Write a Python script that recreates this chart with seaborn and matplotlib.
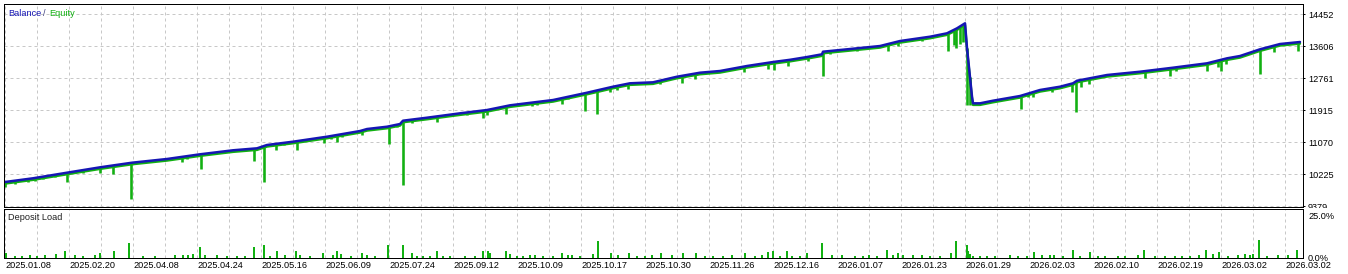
import numpy as np
import pandas as pd
import matplotlib
matplotlib.use("Agg")
import matplotlib.pyplot as plt
import matplotlib.transforms as mtransforms
from matplotlib.ticker import FixedLocator
import seaborn as sns

# ---------------- data ----------------
# balance curve key points (deal index, balance)
bal_x = [0, 28, 62, 95, 127, 162, 195, 228, 252, 262, 288, 322, 355, 362, 382, 395, 398,
         422, 455, 482, 505, 518, 548, 582, 608, 625, 648, 672, 695, 715, 742, 768, 785,
         802, 817, 818, 842, 875, 895, 925, 942, 952, 960, 962, 967, 968, 975, 988, 1015,
         1035, 1055, 1068, 1072, 1102, 1135, 1168, 1202, 1222, 1235, 1255, 1275, 1295]
bal_v = [10021, 10119, 10267, 10409, 10531, 10629, 10753, 10859, 10911, 10999, 11086, 11218,
         11368, 11421, 11482, 11553, 11641, 11720, 11836, 11923, 12047, 12090, 12187, 12380,
         12539, 12629, 12655, 12803, 12909, 12954, 13086, 13191, 13250, 13323, 13395, 13464,
         13527, 13614, 13746, 13860, 13950, 14082, 14214, 13561, 12275, 12100, 12100, 12169,
         12293, 12452, 12539, 12629, 12697, 12848, 12935, 13041, 13157, 13289, 13350, 13527,
         13667, 13720]

# equity drawdown spikes (deal index, equity low)
eq_x = [0, 10, 23, 30, 38, 50, 62, 78, 95, 108, 126, 177, 182, 196, 249, 259, 271, 279, 292,
        319, 326, 332, 337, 357, 384, 392, 398, 407, 432, 462, 478, 482, 501, 527, 532, 557,
        563, 580, 592, 605, 612, 623, 655, 677, 690, 739, 763, 769, 783, 803, 818, 825, 852,
        883, 893, 917, 943, 949, 951, 955, 958, 962, 965, 1016, 1023, 1028, 1047, 1067, 1071,
        1076, 1084, 1140, 1165, 1171, 1202, 1213, 1216, 1221, 1255, 1269, 1293]
eq_low = [9881, 9960, 10021, 10055, 10092, 10145, 10013, 10251, 10267, 10224, 9564, 10557,
          10621, 10372, 10584, 10013, 10866, 10999, 10866, 11059, 11149, 11070, 11202, 11263,
          11017, 11466, 9942, 11572, 11598, 11791, 11704, 11791, 11818, 12029, 12055, 12082,
          12206, 11897, 11810, 12391, 12452, 12470, 12602, 12629, 12734, 12919, 12999, 12980,
          13086, 13218, 12822, 13395, 13490, 13482, 13614, 13746, 13490, 13641, 13553, 13659,
          13712, 12055, 12055, 11950, 12275, 12275, 12407, 12407, 11878, 12523, 12602, 12777,
          12829, 12954, 12962, 13067, 12954, 13131, 12866, 13464, 13490]

# deposit load bars (deal index, percent)
load_x = [1, 10, 17, 25, 32, 40, 51, 60, 70, 78, 90, 95, 109, 124, 138, 150, 170, 178, 183,
          188, 195, 200, 212, 222, 232, 240, 249, 259, 265, 272, 280, 291, 295, 305, 318, 328,
          332, 336, 346, 357, 362, 370, 383, 398, 407, 412, 418, 425, 432, 438, 445, 460, 470,
          478, 483, 485, 501, 505, 512, 518, 525, 530, 538, 548, 557, 563, 567, 575, 588, 593,
          606, 613, 624, 632, 640, 647, 656, 667, 678, 691, 700, 708, 718, 727, 740, 750, 757,
          763, 768, 775, 782, 787, 795, 802, 817, 827, 837, 850, 858, 864, 872, 882, 888, 893,
          898, 908, 917, 925, 935, 946, 951, 962, 963, 965, 968, 975, 982, 990, 1005, 1013,
          1022, 1029, 1037, 1045, 1049, 1058, 1068, 1075, 1085, 1093, 1100, 1113, 1120, 1133,
          1139, 1150, 1160, 1170, 1177, 1185, 1194, 1201, 1208, 1214, 1223, 1233, 1240, 1245,
          1248, 1254, 1262, 1273, 1283, 1292]
load_pct = [2.4, 0.8, 0.8, 1.6, 0.8, 1.6, 2.0, 3.6, 1.6, 0.8, 1.2, 2.4, 3.6, 8.5, 0.8, 0.6,
            1.6, 1.6, 1.6, 2.0, 6.0, 1.6, 1.2, 0.8, 1.0, 0.8, 6.0, 7.7, 1.0, 4.0, 1.2, 4.0,
            1.6, 1.0, 2.6, 1.6, 4.0, 2.0, 0.8, 2.4, 1.6, 0.8, 7.7, 7.7, 2.4, 0.8, 0.8, 0.8,
            4.0, 0.8, 0.8, 0.8, 0.8, 4.0, 4.0, 2.4, 4.0, 2.0, 0.8, 1.0, 1.6, 1.6, 0.8, 0.8,
            2.8, 1.6, 1.6, 0.6, 2.0, 9.7, 2.8, 1.6, 2.8, 0.8, 0.8, 1.6, 2.6, 1.6, 2.8, 2.8,
            1.0, 0.8, 0.8, 1.6, 2.6, 0.8, 1.6, 3.0, 4.0, 1.0, 4.0, 0.8, 0.8, 2.8, 8.9, 1.6,
            1.6, 0.8, 0.8, 1.2, 0.8, 4.5, 1.6, 2.8, 1.6, 1.6, 1.2, 0.8, 0.8, 2.8, 10.0, 7.7,
            3.6, 2.0, 1.0, 0.8, 1.0, 0.8, 1.6, 0.8, 0.8, 3.4, 1.2, 1.6, 1.2, 0.8, 4.7, 1.0,
            3.4, 0.8, 0.8, 0.8, 0.8, 1.6, 4.7, 0.6, 0.6, 0.6, 0.8, 0.8, 1.2, 4.5, 2.0, 3.4,
            0.8, 1.2, 2.0, 1.6, 2.0, 10.7, 0.8, 1.6, 1.2, 4.7]

y_ticks = [9379, 10225, 11070, 11915, 12761, 13606, 14452]
load_ticks = [0, 25]
load_tick_labels = ["0.0%", "25.0%"]
date_labels = ["2025.01.08", "2025.02.20", "2025.04.08", "2025.04.24", "2025.05.16",
               "2025.06.09", "2025.07.24", "2025.09.12", "2025.10.09", "2025.10.17",
               "2025.10.30", "2025.11.26", "2025.12.16", "2026.01.07", "2026.01.23",
               "2026.01.29", "2026.02.03", "2026.02.10", "2026.02.19", "2026.03.02",
               "2026.03.02"]

# ---------------- style ----------------
sns.set_theme(style="white")
plt.rcParams["font.family"] = ["Liberation Sans", "DejaVu Sans"]
FS = 6.6
BLUE = "#1616b4"
GREEN = "#12b012"
GRID = "#c8c8c8"
PX = 0.72  # one pixel in points at dpi 100

W, H = 1348, 274
fig = plt.figure(figsize=(W / 100, H / 100), dpi=100)

def rect(l, t, r, b):
    return [l / W, 1 - b / H, (r - l) / W, (b - t) / H]

ax = fig.add_axes(rect(4, 4, 1303, 207))
ax2 = fig.add_axes(rect(4, 209, 1303, 257.5), sharex=ax)

bal = pd.DataFrame({"deal": bal_x, "balance": bal_v})

# equity line (drawn just under the balance line)
sns.lineplot(data=bal, x="deal", y="balance", ax=ax, color=GREEN, lw=2.4 * PX,
             sort=False, estimator=None, legend=False)
eq_line = ax.lines[-1]
eq_line.set_transform(ax.transData + mtransforms.ScaledTranslation(0, -1.6 / 100, fig.dpi_scale_trans))

# equity spikes
tops = np.interp(eq_x, bal_x, bal_v)
ax.vlines(eq_x, eq_low, tops, color=GREEN, lw=2.6 * PX)

# balance line
sns.lineplot(data=bal, x="deal", y="balance", ax=ax, color=BLUE, lw=2.5 * PX,
             sort=False, estimator=None, legend=False)

# deposit load bars
ax2.bar(load_x, load_pct, width=2.0, color=GREEN, linewidth=0, align="center")

# ---------------- axes ----------------
step = 845.5 / 32.0
ax.set_ylim(9379 - 0.7 * step, 9379 - 0.7 * step + 203 * step)
ax.set_xlim(-1, 1298)
ax2.set_ylim(0, 28.9)

major = np.arange(0, 1298, 64)
minor = np.arange(32, 1298, 64)
ax2.xaxis.set_major_locator(FixedLocator(major))
ax2.xaxis.set_minor_locator(FixedLocator(minor))
ax2.set_xticklabels(date_labels[:len(major)], fontsize=FS, ha="left")
ax.tick_params(axis="x", which="both", labelbottom=False, length=0)
ax2.tick_params(axis="x", which="both", length=0, pad=2.2, labelsize=FS, colors="black")

for a in (ax, ax2):
    a.yaxis.tick_right()
    a.grid(True, which="both", axis="x", color=GRID, lw=PX, ls=(0, (3, 3)))
    a.set_axisbelow(True)
    for s in a.spines.values():
        s.set_visible(True)
        s.set_color("black")
        s.set_linewidth(1.0 * PX)
    a.set_xlabel("")
    a.set_ylabel("")

ax.set_yticks(y_ticks)
ax.set_yticklabels([str(v) for v in y_ticks], fontsize=FS)
ax.grid(True, which="major", axis="y", color=GRID, lw=PX, ls=(0, (3, 3)))
ax.tick_params(axis="y", length=2 * PX, width=PX, pad=2.2, colors="black", labelsize=FS)

ax2.set_yticks(load_ticks)
ax2.set_yticklabels(load_tick_labels, fontsize=FS)
ax2.tick_params(axis="y", length=0, pad=3.6, colors="black", labelsize=FS)

# clip the lowest main label like the original (panel below covers it)
clip = mtransforms.Bbox.from_extents(0, H - 208, W, H)
for lab in ax.get_yticklabels():
    lab.set_clip_box(clip)
    lab.set_clip_on(True)

# panel titles
def ftext(x, y, s, color):
    fig.text(x / W, 1 - y / H, s, fontsize=FS, color=color, ha="left", va="center")

ftext(8, 13, "Balance", BLUE)
ftext(43.5, 13, "/", "#404080")
ftext(49.5, 13, "Equity", GREEN)
ftext(8, 217.5, "Deposit Load", "#202020")

fig.savefig("out.png", dpi=100)
